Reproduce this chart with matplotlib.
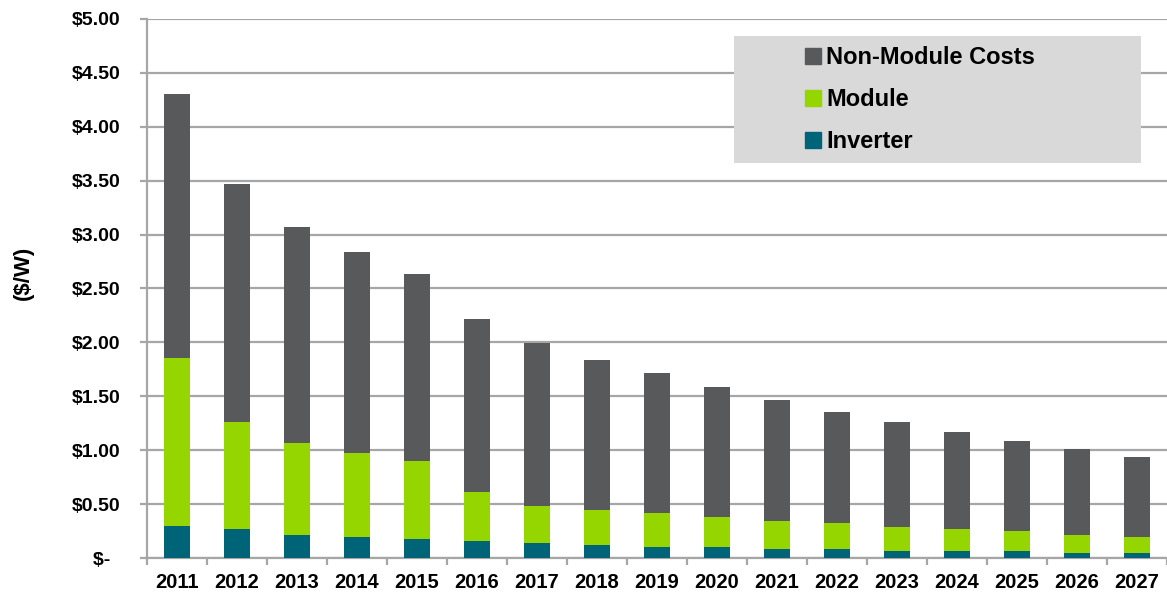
import matplotlib
matplotlib.use("Agg")
import matplotlib.pyplot as plt
from matplotlib.lines import Line2D
from matplotlib.patches import Rectangle
from matplotlib.ticker import FixedLocator, FuncFormatter
import numpy as np

years = ["2011", "2012", "2013", "2014", "2015", "2016", "2017", "2018", "2019",
         "2020", "2021", "2022", "2023", "2024", "2025", "2026", "2027"]

# stack tops ($/W)
inverter = [0.30, 0.27, 0.215, 0.196, 0.178, 0.16, 0.14, 0.125, 0.104,
            0.104, 0.085, 0.085, 0.07, 0.07, 0.07, 0.052, 0.052]
module_top = [1.86, 1.265, 1.07, 0.975, 0.90, 0.613, 0.487, 0.45, 0.416,
              0.379, 0.345, 0.326, 0.289, 0.27, 0.252, 0.215, 0.196]
total = [4.30, 3.47, 3.07, 2.835, 2.637, 2.22, 1.99, 1.84, 1.717,
         1.59, 1.463, 1.355, 1.262, 1.172, 1.083, 1.012, 0.938]

inverter = np.array(inverter)
module = np.array(module_top) - inverter
non_module = np.array(total) - np.array(module_top)

c_non = "#58595b"
c_mod = "#96d600"
c_inv = "#006479"
grid_c = "#a6a6a6"

plt.rcParams["font.family"] = ["Liberation Sans", "DejaVu Sans"]

W, H = 1167, 595
x0, y0 = 147, 558.2          # axis origin in pixels
px_per_unit = 107.9

fig = plt.figure(figsize=(W / 100, H / 100), dpi=100)
ax = fig.add_axes([x0 / W, (H - y0) / H, (W - x0) / W, 5 * px_per_unit / H])

x = np.arange(len(years))
w = 0.42
ax.bar(x, inverter, w, color=c_inv, zorder=3)
ax.bar(x, module, w, bottom=inverter, color=c_mod, zorder=3)
ax.bar(x, non_module, w, bottom=np.array(module_top), color=c_non, zorder=3)

ax.set_xlim(-0.5, len(years) - 0.5)
ax.set_ylim(0, 5)
ax.set_yticks(np.arange(0, 5.01, 0.5))
ax.yaxis.set_major_formatter(FuncFormatter(lambda v, p: "$-  " if v == 0 else f"${v:.2f}"))
ax.yaxis.grid(True, color=grid_c, linewidth=1.6, zorder=0)

ax.set_xticks(x)
ax.set_xticklabels(years)
ax.xaxis.set_minor_locator(FixedLocator(np.arange(-0.5, len(years), 1.0)))
ax.tick_params(axis="x", which="major", length=0, pad=11)
ax.tick_params(axis="x", which="minor", length=5, width=1.6, color=grid_c, direction="out")
ax.tick_params(axis="y", length=5, width=1.6, color=grid_c, direction="out", pad=14)

for lab in ax.get_xticklabels():
    lab.set_fontsize(14.5)
    lab.set_fontweight("bold")
for lab in ax.get_yticklabels():
    lab.set_fontsize(14)
    lab.set_fontweight("bold")

for s in ["top", "right"]:
    ax.spines[s].set_visible(False)
for s in ["left", "bottom"]:
    ax.spines[s].set_color(grid_c)
    ax.spines[s].set_linewidth(1.6)

fig.text(23 / W, 1 - 273 / H, "($/W)", rotation=90, ha="center", va="center",
         fontsize=16, fontweight="bold")

# legend box
def ax_frac(px, py):
    return ((px - x0) / (W - x0), (y0 - py) / (5 * px_per_unit))

bx, by = ax_frac(734, 162.7)
box = Rectangle((bx, by), (1141 - 734) / (W - x0), 127 / (5 * px_per_unit),
                transform=ax.transAxes, facecolor="#d9d9d9", edgecolor="none", zorder=4)
ax.add_patch(box)
handles = [Line2D([], [], marker="s", linestyle="none", markersize=11, color=c)
           for c in (c_non, c_mod, c_inv)]
leg = ax.legend(handles, ["Non-Module Costs", "Module", "Inverter"],
                loc="upper left", bbox_to_anchor=ax_frac(805, 46),
                frameon=False, prop={"size": 17, "weight": "bold"},
                handlelength=0.64, handletextpad=0.25, labelspacing=0.8,
                borderpad=0, borderaxespad=0)
leg.set_zorder(5)

fig.savefig("out.png", dpi=100)
